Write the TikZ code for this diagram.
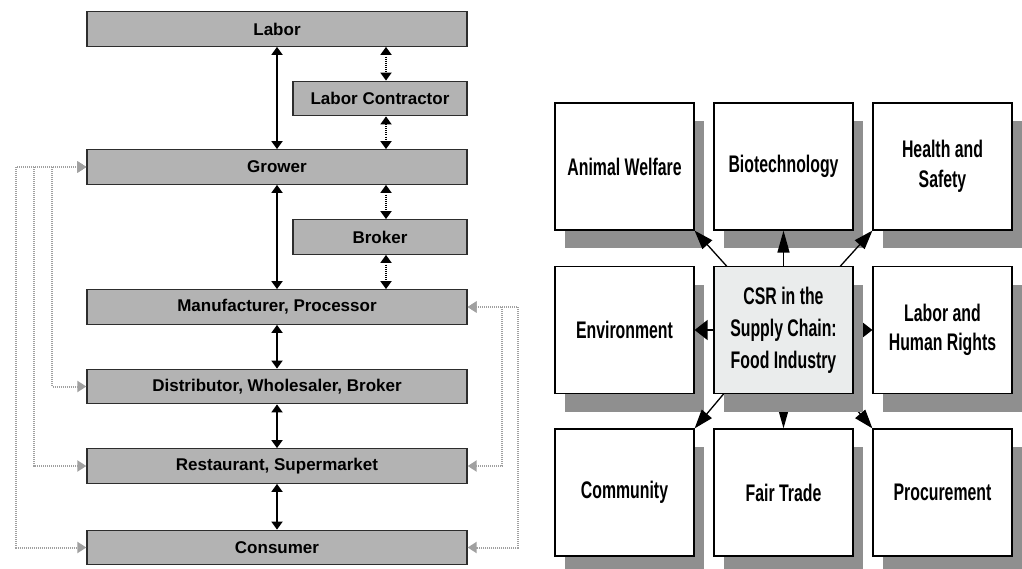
\documentclass[tikz,border=0pt]{standalone}
\usepackage{fontspec}
\setmainfont{Liberation Sans}
\newfontfamily\narrowsans[FakeStretch=0.66]{Liberation Sans}
\usetikzlibrary{arrows.meta,shadows}

\definecolor{boxgray}{RGB}{179,179,179}
\definecolor{boxedge}{RGB}{45,45,45}
\definecolor{linkgray}{RGB}{160,160,160}
\definecolor{shadowgray}{RGB}{143,143,143}
\definecolor{corefill}{RGB}{234,236,236}

\begin{document}
\begin{tikzpicture}[x=1pt,y=-1pt,
  stage/.style={draw=boxedge, fill=boxgray, line width=1.3pt, inner sep=0pt,
    minimum height=34.5pt, font=\fontsize{17}{20}\selectfont\bfseries},
  wide/.style={stage, minimum width=380pt},
  short/.style={stage, minimum width=174pt},
  flow/.style={line width=1.8pt, {Triangle[length=8pt,width=11pt]}-{Triangle[length=8pt,width=11pt]}},
  flowdot/.style={flow, dash pattern=on 1pt off 1.1pt},
  feedback/.style={draw=linkgray, line width=2pt, dash pattern=on 1.2pt off 0.8pt,
    {Triangle[length=9pt,width=11pt,fill=linkgray]}-{Triangle[length=9pt,width=11pt,fill=linkgray]}},
  topic/.style={draw=black, fill=white, line width=1.2pt, inner sep=0pt,
    minimum width=139pt, minimum height=127pt, align=center,
    font=\narrowsans\bfseries\fontsize{24}{29.5}\selectfont,
    general shadow={fill=shadowgray, shadow xshift=10pt, shadow yshift=-18pt}},
  core/.style={topic, fill=corefill, font=\narrowsans\bfseries\fontsize{24}{32}\selectfont},
  spoke/.style={line width=1.3pt},
  vtip/.style={spoke, -{Triangle[length=22pt,width=12pt]}},
  htip/.style={spoke, -{Triangle[length=13pt,width=20pt]}},
  dtip/.style={spoke, -{Triangle[length=19pt,width=13pt]}}
]
\useasboundingbox (0,0) rectangle (1022,569);

% ---------- food supply chain ----------
\node[wide]  (labor)   at (277,29)    {Labor};
\node[short] (contract) at (380,98.5) {Labor Contractor};
\node[wide]  (grower)  at (277,167)   {Grower};
\node[short] (broker)  at (380,237)   {Broker};
\node[wide]  (manuf)   at (277,307)   {Manufacturer, Processor};
\node[wide]  (distrib) at (277,386.5) {Distributor, Wholesaler, Broker};
\node[wide]  (retail)  at (277,466)   {Restaurant, Supermarket};
\node[wide]  (consumer) at (277,547.5) {Consumer};

% column of the dotted links
\coordinate (dotcol) at (386,0);

\draw[flow] (labor.south) -- (grower.north);
\draw[flow] (grower.south) -- (manuf.north);
\draw[flow] (manuf.south) -- (distrib.north);
\draw[flow] (distrib.south) -- (retail.north);
\draw[flow] (retail.south) -- (consumer.north);

\draw[flowdot] (labor.south -| dotcol) -- (contract.north -| dotcol);
\draw[flowdot] (contract.south -| dotcol) -- (grower.north -| dotcol);
\draw[flowdot] (grower.south -| dotcol) -- (broker.north -| dotcol);
\draw[flowdot] (broker.south -| dotcol) -- (manuf.north -| dotcol);

% grey feedback rails
\coordinate (railA) at (16,0);
\coordinate (railB) at (34,0);
\coordinate (railC) at (52,0);
\coordinate (railD) at (502,0);
\coordinate (railE) at (518,0);

\draw[feedback] (grower.west) -- (grower.west -| railA) -- (consumer.west -| railA) -- (consumer.west);
\draw[feedback] (grower.west) -- (grower.west -| railB) -- (retail.west -| railB) -- (retail.west);
\draw[feedback] (grower.west) -- (grower.west -| railC) -- (distrib.west -| railC) -- (distrib.west);
\draw[feedback] (manuf.east) -- (manuf.east -| railE) -- (consumer.east -| railE) -- (consumer.east);
\draw[feedback] (manuf.east) -- (manuf.east -| railD) -- (retail.east -| railD) -- (retail.east);

% ---------- CSR topics ----------
\node[topic] (animal) at (624.5,166.5) {Animal Welfare};
\node[topic] (biotech) at (783.5,166.5) {Biotechnology};
\node[topic] (health) at (942.5,166.5) {Health and\\Safety};
\node[topic] (env) at (624.5,330) {Environment};
\node[topic] (rights) at (942.5,330) {Labor and\\Human Rights};
\node[topic] (community) at (624.5,492.5) {Community};
\node[topic] (fair) at (783.5,492.5) {Fair Trade};
\node[topic] (procure) at (942.5,492.5) {Procurement};

% frame of the centre box, so the spokes sit under its shadow
\path (783.5,330) node[minimum width=139pt, minimum height=127pt, inner sep=0pt] (corefr) {};

\draw[vtip] (corefr.north) -- (biotech.south);
\draw[vtip] (corefr.south) -- (fair.north);
\draw[htip] (corefr.west) -- (env.east);
\draw[htip] (corefr.east) -- (rights.west);
\draw[dtip] ([xshift=13pt]corefr.north west) -- (animal.south east);
\draw[dtip] ([xshift=-13pt]corefr.north east) -- (health.south west);
\draw[dtip] ([xshift=10pt]corefr.south west) -- (community.north east);
\draw[dtip] ([xshift=-10pt]corefr.south east) -- (procure.north west);

\node[core] (csr) at (corefr.center) {CSR in the\\Supply Chain:\\Food Industry};
\end{tikzpicture}
\end{document}
